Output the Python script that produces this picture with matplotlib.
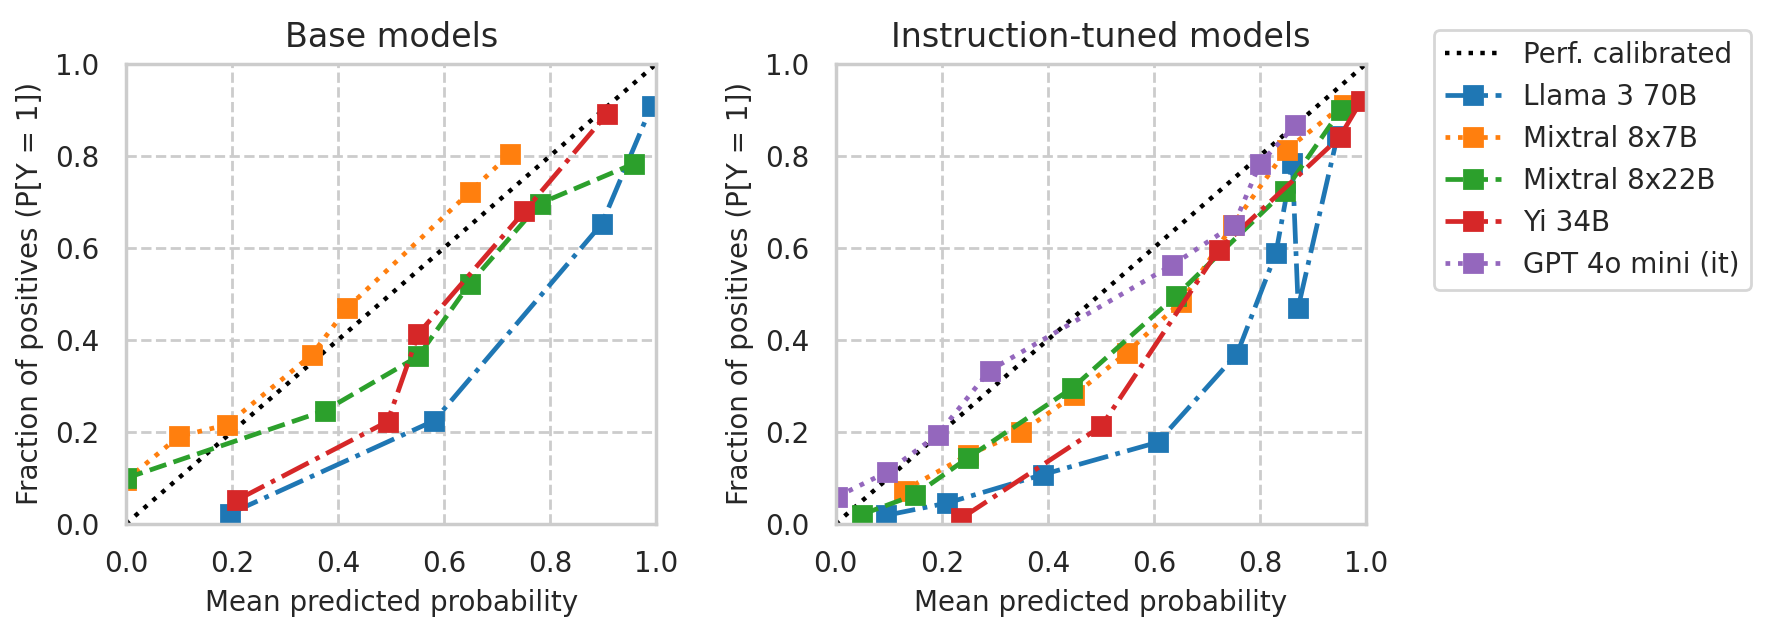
import matplotlib
matplotlib.use('Agg')
import matplotlib.pyplot as plt
import seaborn as sns

sns.set_theme(style='whitegrid')

# base models: (mean predicted prob, fraction of positives)
base_llama_x = [0.196, 0.581, 0.897, 0.991]
base_llama_y = [0.022, 0.224, 0.652, 0.909]
base_mix7_x = [0.0, 0.100, 0.190, 0.350, 0.417, 0.649, 0.724]
base_mix7_y = [0.095, 0.190, 0.215, 0.367, 0.469, 0.722, 0.804]
base_mix22_x = [0.0, 0.375, 0.551, 0.648, 0.780, 0.958]
base_mix22_y = [0.099, 0.246, 0.364, 0.522, 0.696, 0.783]
base_yi_x = [0.210, 0.493, 0.551, 0.751, 0.907]
base_yi_y = [0.052, 0.222, 0.413, 0.679, 0.891]

# instruction-tuned models
it_llama_x = [0.094, 0.210, 0.391, 0.607, 0.757, 0.830, 0.861, 0.872, 0.946]
it_llama_y = [0.018, 0.045, 0.107, 0.177, 0.370, 0.588, 0.784, 0.470, 0.843]
it_mix7_x = [0.128, 0.250, 0.350, 0.450, 0.549, 0.651, 0.749, 0.850, 0.958]
it_mix7_y = [0.072, 0.150, 0.199, 0.280, 0.372, 0.482, 0.650, 0.813, 0.911]
it_mix22_x = [0.049, 0.150, 0.249, 0.446, 0.642, 0.847, 0.952]
it_mix22_y = [0.020, 0.063, 0.143, 0.295, 0.496, 0.724, 0.899]
it_yi_x = [0.237, 0.501, 0.722, 0.950, 0.991]
it_yi_y = [0.012, 0.212, 0.596, 0.840, 0.920]
it_gpt_x = [0.003, 0.096, 0.192, 0.290, 0.634, 0.751, 0.800, 0.866]
it_gpt_y = [0.059, 0.112, 0.193, 0.333, 0.562, 0.650, 0.783, 0.866]

names = ['Llama 3 70B', 'Mixtral 8x7B', 'Mixtral 8x22B', 'Yi 34B', 'GPT 4o mini (it)']
colors = ['tab:blue', 'tab:orange', 'tab:green', 'tab:red', 'tab:purple']
styles = ['-.', ':', '--', '-.', ':']

plt.rcParams['font.family'] = ['DejaVu Sans']

fig, (ax1, ax2) = plt.subplots(1, 2, figsize=(8.85, 3.155), dpi=200)
fig.subplots_adjust(left=0.0712, right=0.7718, bottom=0.17, top=0.899, wspace=0.338)

base = [(base_llama_x, base_llama_y), (base_mix7_x, base_mix7_y),
        (base_mix22_x, base_mix22_y), (base_yi_x, base_yi_y)]
tuned = [(it_llama_x, it_llama_y), (it_mix7_x, it_mix7_y), (it_mix22_x, it_mix22_y),
         (it_yi_x, it_yi_y), (it_gpt_x, it_gpt_y)]

for ax, series, title in [(ax1, base, 'Base models'), (ax2, tuned, 'Instruction-tuned models')]:
    ax.plot([0, 1], [0, 1], ':', color='black', lw=1.6, label='Perf. calibrated')
    for i, (xs, ys) in enumerate(series):
        ax.plot(xs, ys, styles[i], color=colors[i], marker='s', ms=6.5, lw=1.7, label=names[i])
    ax.set_xlim(0, 1)
    ax.set_ylim(0, 1)
    ax.grid(True, linestyle='--', color='#cccccc', lw=1)
    for s in ax.spines.values():
        s.set_color('#cccccc')
    ax.set_title(title, fontsize=12)
    ax.set_xlabel('Mean predicted probability', fontsize=10)
    ax.set_ylabel('Fraction of positives (P[Y = 1])', fontsize=10)
    ax.tick_params(labelsize=10)

ax2.legend(loc='upper left', bbox_to_anchor=(0.8102, 0.9525), bbox_transform=fig.transFigure,
           borderaxespad=0, fontsize=10, frameon=True)

fig.savefig('out.png', dpi=200)
